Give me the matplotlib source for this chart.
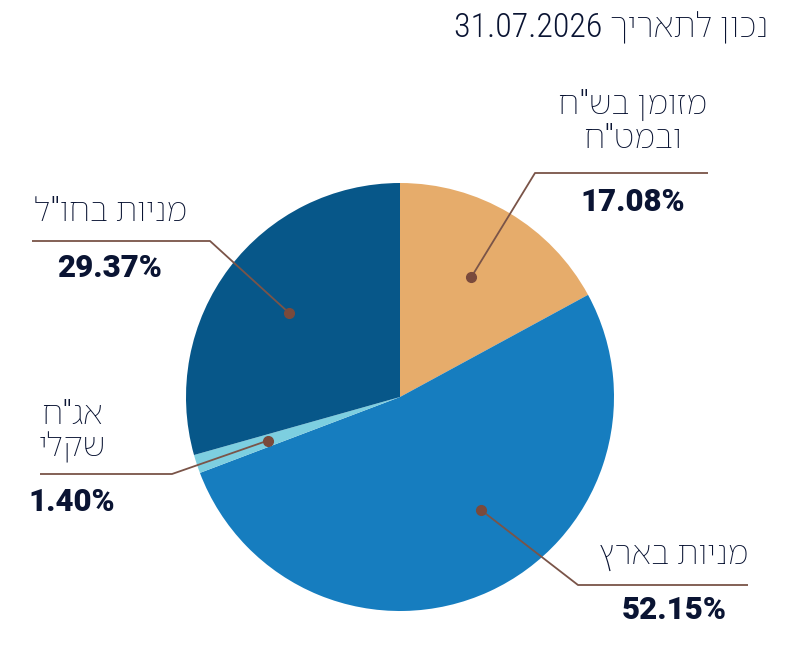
import matplotlib
matplotlib.use('Agg')
import matplotlib.pyplot as plt
import numpy as np

# data
labels = ['מזומן בש"ח\nובמט"ח', 'מניות בארץ', 'אג"ח\nשקלי', 'מניות בחו"ל']
values = [17.08, 52.15, 1.40, 29.37]
colors = ['#E6AC6B', '#167DBF', '#7DCFE0', '#075789']
title_date = '31.07.2026'
title_text = 'נכון לתאריך'

W, H = 785, 665
heb = ['Roboto Condensed', 'Noto Sans Hebrew', 'DejaVu Sans']
num_font = ['Roboto', 'DejaVu Sans']
ink = '#0A1433'
line_c = '#7A5448'


def rtl(s):
    # matplotlib has no bidi, so flip each line by hand
    return '\n'.join(l[::-1] for l in s.split('\n'))


def py(y):
    return H - y


fig = plt.figure(figsize=(W / 100, H / 100), dpi=100)
ax = fig.add_axes([0, 0, 1, 1])

cx, cy, R = 400, py(397), 214
wedges, _ = ax.pie(values, colors=colors, startangle=90, counterclock=False,
                   center=(cx, cy), radius=R, frame=True,
                   wedgeprops=dict(linewidth=0))
ax.set_xlim(0, W)
ax.set_ylim(0, H)
ax.set_aspect('equal')
ax.axis('off')

# leader layout: (angle offset, elbow, end, label center x, name y, pct y)
layout = [
    (0, (535, 173), (708, 173), 633, 122, 202),
    (11, (578, 585), (748, 585), 674, 555, 610),
    (0, (172, 474), (40, 474), 72, 431, 502),
    (0, (210, 241), (32, 241), 110, 212, 268),
]

for w, v, lab, (off, elbow, end, lx, ny, pyy) in zip(wedges, values, labels, layout):
    mid = np.deg2rad((w.theta1 + w.theta2) / 2 + off)
    dx = cx + 0.65 * R * np.cos(mid)
    dy = cy + 0.65 * R * np.sin(mid)
    ax.plot([dx, elbow[0], end[0]], [dy, py(elbow[1]), py(end[1])],
            color=line_c, lw=1.3, solid_capstyle='butt')
    ax.plot(dx, dy, 'o', color='#7A4A3C', ms=7)
    ax.text(lx, py(ny), rtl(lab), ha='center', va='center', fontsize=24,
            family=heb, weight='light', color=ink, linespacing=1.05)
    ax.text(lx, py(pyy), f'{v:.2f}%', ha='center', va='center', fontsize=22.5,
            family=num_font, weight='heavy', color=ink)

ax.text(768, py(28), title_date + ' ' + rtl(title_text), ha='right', va='center',
        fontsize=24.5, family=heb, weight='light', color=ink)

fig.savefig('out.png', dpi=100)
